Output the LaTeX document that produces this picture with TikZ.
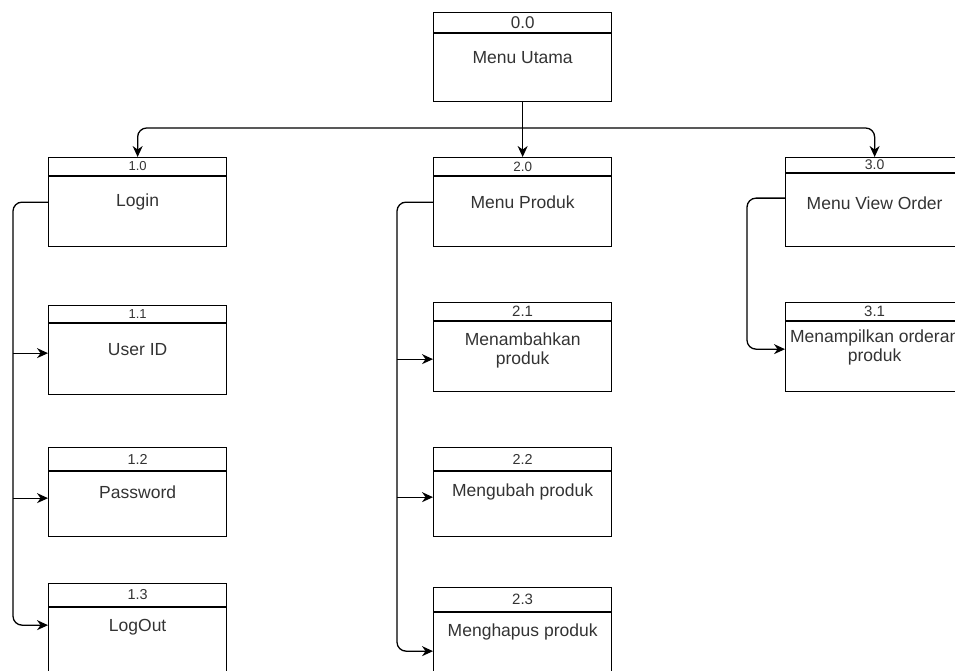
\documentclass[tikz,border=0pt]{standalone}
\usepackage{fontspec}
\setmainfont{Liberation Sans}
\usetikzlibrary{arrows.meta}
\definecolor{txt}{HTML}{333333}
\tikzset{
  box/.style={draw=black, line width=1.3pt, rectangle, inner sep=0pt, anchor=north west,
              minimum width=178pt, minimum height=89pt},
  link/.style={draw=black, line width=1.3pt, rounded corners=9pt},
  arr/.style={link, -{Stealth[length=11pt,width=10pt]}},
  bodytxt/.style={text=txt, align=center, inner sep=0pt,
                  font=\fontsize{17.5}{19}\selectfont},
}
% #1 name, #2 x, #3 y, #4 header height, #5 number size, #6 number, #7 body, #8 body offset
\newcommand\pbox[8]{%
  \node[box] (#1) at (#2,#3) {};
  \draw[line width=1.3pt] ([yshift={-(#4)*1pt}]#1.north west) -- ([yshift={-(#4)*1pt}]#1.north east);
  \node[text=txt, inner sep=0pt, font=\fontsize{#5}{#5}\selectfont]
    at ([yshift={-(#4)*0.5pt}]#1.north) {#6};
  \node[bodytxt] at ([yshift={-(#4+#8)*1pt}]#1.north) {#7};
}
\begin{document}
\begin{tikzpicture}[x=1pt,y=-1pt]
\useasboundingbox (0,0) rectangle (955,671);
\clip (0,0) rectangle (955,671);
\pbox{n00}{433}{12}{21}{17}{0.0}{Menu Utama}{25}
\pbox{n10}{48}{157}{19}{13}{1.0}{Login}{26}
\pbox{n20}{433}{157}{19}{13.5}{2.0}{Menu Produk}{26}
\pbox{n30}{785}{157}{16}{14}{3.0}{Menu View Order}{30}
\pbox{n11}{48}{305}{18}{13}{1.1}{User ID}{27}
\pbox{n21}{433}{302}{19}{15}{2.1}{Menambahkan\\produk}{29}
\pbox{n31}{785}{302}{19}{15}{3.1}{Menampilkan orderan\\produk}{26}
\pbox{n12}{48}{447}{24}{14.4}{1.2}{Password}{21}
\pbox{n22}{433}{447}{24}{14.4}{2.2}{Mengubah produk}{21}
\pbox{n13}{48}{583}{24}{14.4}{1.3}{LogOut}{20}
\pbox{n23}{433}{587}{25}{15}{2.3}{Menghapus produk}{20}

\coordinate (bus) at (0,128);
\coordinate (t1) at (13,0);
\coordinate (t2) at (397,0);
\coordinate (t3) at (747,0);
\coordinate (e31) at ([yshift=-2pt]n31.west);

% top level
\draw[arr] (n00.south) -- (n20.north);
\draw[arr] (n00.south |- bus) -| (n10.north);
\draw[arr] (n00.south |- bus) -| (n30.north);

% column 1
\draw[arr] (n10.west) -| (t1 |- n12.west) |- ([yshift=3pt]n13.west);
\draw[arr] (t1 |- n10.west) ++(0,151) -- ([yshift=-3pt]n11.west);
\draw[arr] (t1 |- n12.west) ++(0,6) -- ([yshift=-6pt]n12.west);

% column 2
\draw[arr] (n20.west) -| (t2 |- n22.west) |- ([yshift=-19pt]n23.west);
\draw[arr] (t2 |- n21.west) ++(0,12) -- ([yshift=-12pt]n21.west);
\draw[arr] (t2 |- n22.west) ++(0,5) -- ([yshift=-5pt]n22.west);

% column 3
\draw[arr] ([yshift=4pt]n30.west) -| (t3 |- e31) -- (e31);
\end{tikzpicture}
\end{document}
